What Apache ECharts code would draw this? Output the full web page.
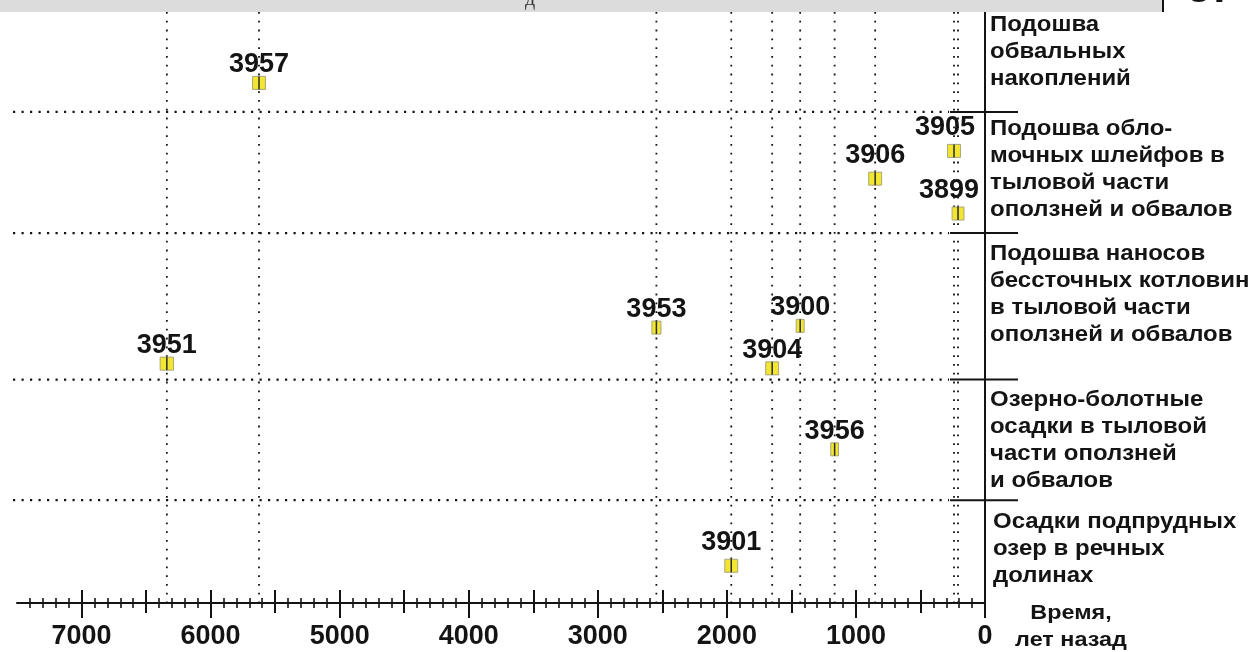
<!DOCTYPE html>
<html>
<head>
<meta charset="utf-8">
<script src="https://cdn.jsdelivr.net/npm/echarts@6/dist/echarts.min.js"></script>
<style>
html,body{margin:0;padding:0;background:#fff;}
#chart{width:1253px;height:652px;}
</style>
</head>
<body>
<div id="chart"></div>
<script>
// ---- data ----
const sampleIds = ['3957', '3905', '3906', '3899', '3953', '3900', '3951', '3904', '3956', '3901'];
const ages      = [5625, 240, 851, 209, 2546, 1432, 6339, 1649, 1165, 1966];   // years BP
const ageErr    = [50, 50, 50, 46, 35, 31, 52, 50, 30, 50];                    // half range, years
const levels    = [12.0, 23.5, 28.2, 34.1, 53.4, 53.1, 59.5, 60.3, 74.0, 93.7]; // relative position (0 top, 100 axis)
const boundaryLevels = [16.9, 37.4, 62.2, 82.6];
const majorTicks = [0, 1000, 2000, 3000, 4000, 5000, 6000, 7000];
const halfTicks  = [500, 1500, 2500, 3500, 4500, 5500, 6500];
const unitNames = [
  'Подошва\nобвальных\nнакоплений',
  'Подошва обло-\nмочных шлейфов в\nтыловой части\nоползней и обвалов',
  'Подошва наносов\nбессточных котловин\nв тыловой части\nоползней и обвалов',
  'Озерно-болотные\nосадки в тыловой\nчасти оползней\nи обвалов',
  'Осадки подпрудных\nозер в речных\nдолинах'
];
const axisTitle = 'Время,\nлет назад';

// ---- styles ----
const FONT = '"Liberation Sans", Arial, sans-serif';
const INK = '#141414';
const labelShift = { '3905': [-9, -5], '3899': [-9, -5], '3906': [0, -5], '3901': [0, -5] };
const unitTextPos = [[990, 12], [990, 116], [990, 241], [990, 387], [993, 509]];

const chart = echarts.init(document.getElementById('chart'), null, { renderer: 'canvas' });

const points = sampleIds.map((id, i) => [ages[i], levels[i], ageErr[i], id]);
const vlines = ages.map((a, i) => [a, levels[i]]);
const hlines = boundaryLevels.map(v => [0, v]);

const baseX = {
  type: 'value', inverse: true, min: 0, max: 7500, interval: 500,
  position: 'bottom', splitLine: { show: false }
};

const graphics = [
  { type: 'rect', left: 0, top: 0, z: 100, shape: { width: 1162, height: 12 }, style: { fill: '#dcdcdc' } },
  { type: 'rect', left: 1162, top: 0, z: 100, shape: { width: 2, height: 12 }, style: { fill: INK } },
  { type: 'text', x: 1187, y: -31, z: 100, style: { text: '37', fontSize: 42, fontWeight: 'bold', fontFamily: FONT, fill: INK } },
  { type: 'text', x: 525, y: -10, z: 101, style: { text: 'д', fontSize: 20, fontFamily: '"Liberation Serif", serif', fill: '#333' } }
];
unitNames.forEach((t, i) => {
  graphics.push({
    type: 'text', x: unitTextPos[i][0], y: unitTextPos[i][1], z: 50, scaleX: 1.09, scaleY: 1,
    style: { text: t, fontSize: 22, fontWeight: 'bold', fontFamily: FONT, fill: INK, lineHeight: 26.7 }
  });
});
graphics.push({
  type: 'text', x: 1071, y: 600, z: 50, scaleX: 1.17, scaleY: 1,
  style: { text: axisTitle, fontSize: 20, fontWeight: 'bold', fontFamily: FONT, fill: INK, lineHeight: 27, align: 'center' }
});

const option = {
  backgroundColor: '#ffffff',
  animation: false,
  grid: { left: 17, right: 268, top: 12, bottom: 49, containLabel: false, outerBoundsMode: 'none' },
  xAxis: [
    Object.assign({}, baseX, {
      axisLine: { show: true, onZero: false, lineStyle: { color: INK, width: 2 } },
      axisTick: { show: true, inside: false, length: 15, customValues: majorTicks, lineStyle: { color: INK, width: 2 } },
      minorTick: { show: true, splitNumber: 5, length: 5, lineStyle: { color: INK, width: 1.6 } },
      axisLabel: { show: true, customValues: majorTicks, margin: 20, fontSize: 27, fontWeight: 'bold', fontFamily: FONT, color: INK,
        formatter: function (v) { return String(v); } }
    }),
    Object.assign({}, baseX, {
      axisLine: { show: false, onZero: false },
      axisTick: { show: true, inside: true, length: 13, customValues: majorTicks.concat(halfTicks), lineStyle: { color: INK, width: 2 } },
      minorTick: { show: true, splitNumber: 5, length: 5, lineStyle: { color: INK, width: 1.6 } },
      axisLabel: { show: false }
    }),
    Object.assign({}, baseX, {
      axisLine: { show: false, onZero: false },
      axisTick: { show: true, inside: false, length: 10, customValues: halfTicks, lineStyle: { color: INK, width: 2 } },
      axisLabel: { show: false }
    })
  ],
  yAxis: {
    type: 'value', min: 0, max: 100, inverse: true, position: 'right',
    axisLine: { show: true, onZero: false, lineStyle: { color: INK, width: 2 } },
    axisTick: { show: false }, axisLabel: { show: false }, splitLine: { show: false }
  },
  graphic: graphics,
  series: [
    {
      type: 'custom', name: 'age lines', data: vlines, clip: false, z: 1, silent: true,
      encode: { x: 0, y: 1 },
      renderItem: function (params, api) {
        const cs = params.coordSys;
        const x = api.coord([api.value(0), api.value(1)])[0];
        return {
          type: 'line',
          shape: { x1: x, y1: cs.y, x2: x, y2: cs.y + cs.height },
          style: { stroke: INK, lineWidth: 1.8, lineDash: [1.8, 7] }
        };
      }
    },
    {
      type: 'custom', name: 'boundaries', data: hlines, clip: false, z: 2, silent: true,
      encode: { x: 0, y: 1 },
      renderItem: function (params, api) {
        const cs = params.coordSys;
        const y = api.coord([0, api.value(1)])[1];
        const xr = cs.x + cs.width;
        return {
          type: 'group', children: [
            { type: 'line', shape: { x1: cs.x - 4, y1: y, x2: xr - 36, y2: y }, style: { stroke: INK, lineWidth: 2.2, lineDash: [2.2, 6.3] } },
            { type: 'line', shape: { x1: xr - 35, y1: y, x2: xr + 33, y2: y }, style: { stroke: INK, lineWidth: 2 } }
          ]
        };
      }
    },
    {
      type: 'custom', name: 'samples', data: points, clip: false, z: 5,
      encode: { x: 0, y: 1 },
      renderItem: function (params, api) {
        const age = api.value(0), lvl = api.value(1), err = api.value(2);
        const id = sampleIds[params.dataIndex];
        const c = api.coord([age, lvl]);
        const xl = api.coord([age + err, lvl])[0];
        const xr = api.coord([age - err, lvl])[0];
        const h = 13;
        const sh = labelShift[id] || [0, 0];
        return {
          type: 'group', children: [
            { type: 'rect', shape: { x: xl, y: c[1] - h / 2, width: xr - xl, height: h }, style: { fill: '#f2e630', stroke: '#aaa57c', lineWidth: 1 } },
            { type: 'line', shape: { x1: c[0], y1: c[1] - h / 2, x2: c[0], y2: c[1] + h / 2 }, style: { stroke: '#2a2a2a', lineWidth: 1.5 } },
            { type: 'text', x: c[0] + sh[0], y: c[1] - h / 2 + 2 + sh[1],
              style: { text: id, fontSize: 27, fontWeight: 'bold', fontFamily: FONT, fill: INK, align: 'center', verticalAlign: 'bottom' } }
          ]
        };
      }
    }
  ]
};
chart.setOption(option);
</script>
</body>
</html>
